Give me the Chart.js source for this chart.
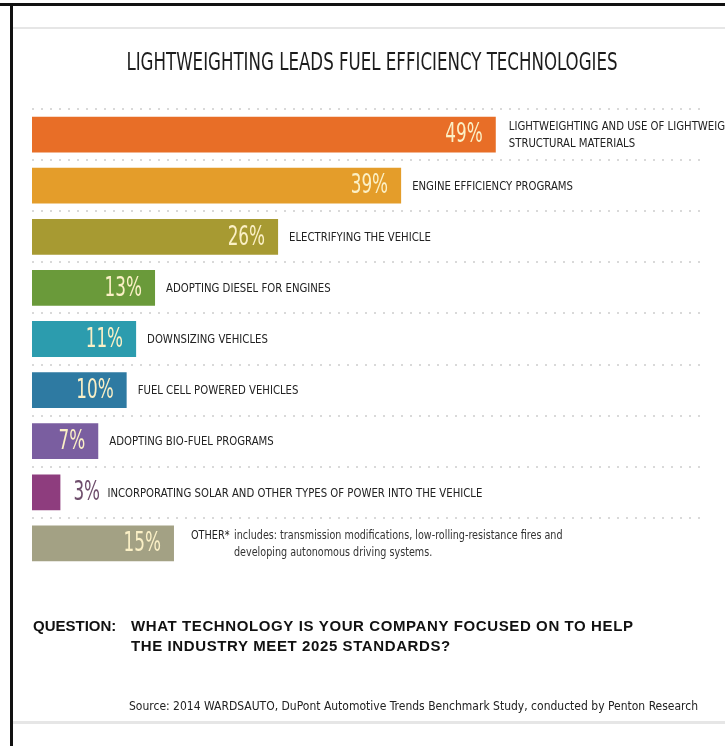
<!DOCTYPE html>
<html>
<head>
<meta charset="utf-8">
<script src="https://cdn.jsdelivr.net/npm/chart.js@4"></script>
<style>
  html, body { margin: 0; padding: 0; background: #fff; }
  #wrap { width: 725px; height: 746px; position: relative; }
</style>
</head>
<body>
<div id="wrap"><canvas id="fuelChart" width="725" height="746"></canvas></div>
<script>
// data
const categories = [
  'LIGHTWEIGHTING AND USE OF LIGHTWEIGHT STRUCTURAL MATERIALS',
  'ENGINE EFFICIENCY PROGRAMS',
  'ELECTRIFYING THE VEHICLE',
  'ADOPTING DIESEL FOR ENGINES',
  'DOWNSIZING VEHICLES',
  'FUEL CELL POWERED VEHICLES',
  'ADOPTING BIO-FUEL PROGRAMS',
  'INCORPORATING SOLAR AND OTHER TYPES OF POWER INTO THE VEHICLE',
  'OTHER*'
];
const labelLines = [
  ['LIGHTWEIGHTING AND USE OF LIGHTWEIGHT', 'STRUCTURAL MATERIALS'],
  ['ENGINE EFFICIENCY PROGRAMS'],
  ['ELECTRIFYING THE VEHICLE'],
  ['ADOPTING DIESEL FOR ENGINES'],
  ['DOWNSIZING VEHICLES'],
  ['FUEL CELL POWERED VEHICLES'],
  ['ADOPTING BIO-FUEL PROGRAMS'],
  ['INCORPORATING SOLAR AND OTHER TYPES OF POWER INTO THE VEHICLE'],
  ['OTHER*']
];
const values = [49, 39, 26, 13, 11, 10, 7, 3, 15];
const barColors = ['#E86E27', '#E49D2A', '#A79A32', '#6A9A3A', '#2C9CAE', '#2E7AA2', '#7A5EA0', '#8E3D7E', '#A3A184'];
const otherNote = ['includes: transmission modifications, low-rolling-resistance fires and', 'developing autonomous driving systems.'];

const chartTitle = 'LIGHTWEIGHTING LEADS FUEL EFFICIENCY TECHNOLOGIES';
const questionLines = ['WHAT TECHNOLOGY IS YOUR COMPANY FOCUSED ON TO HELP', 'THE INDUSTRY MEET 2025 STANDARDS?'];
const sourceText = 'Source: 2014 WARDSAUTO, DuPont Automotive Trends Benchmark Study, conducted by Penton Research';

const NARROW = '"Liberation Sans Narrow", "DejaVu Sans Condensed", sans-serif';
const BOLD = 'bold 15px "Liberation Sans", Arial, sans-serif';

// squeezed text, the original uses a very condensed face
function txt(ctx, s, x, y, font, color, align, sx, spacing) {
  ctx.save();
  ctx.font = font;
  ctx.fillStyle = color;
  ctx.textAlign = align || 'left';
  ctx.textBaseline = 'middle';
  if (spacing) ctx.letterSpacing = spacing;
  ctx.translate(x, y);
  ctx.scale(sx || 1, 1);
  ctx.fillText(s, 0, 0);
  ctx.restore();
}

const decorations = {
  id: 'decorations',
  beforeDraw(chart) {
    const ctx = chart.ctx;
    ctx.save();
    // frame
    ctx.fillStyle = '#111';
    ctx.fillRect(0, 3, 725, 3);
    ctx.fillRect(10, 3, 3, 743);
    ctx.fillStyle = '#e6e6e6';
    ctx.fillRect(13, 27, 712, 2);
    ctx.fillRect(13, 721, 712, 3);
    ctx.restore();
  },
  afterDatasetsDraw(chart) {
    const ctx = chart.ctx;
    const bars = chart.getDatasetMeta(0).data;

    txt(ctx, chartTitle, 372, 63, '25px ' + NARROW, '#1c1c1c', 'center', 0.74);

    bars.forEach((bar, i) => {
      const v = values[i] + '%';
      let labelX = bar.x + 11;
      if (values[i] < 5) {
        txt(ctx, v, bar.x + 13, bar.y + 1, '26px ' + NARROW, '#6f4e6c', 'left', 0.72);
        labelX = bar.x + 47;
      } else {
        txt(ctx, v, bar.x - 13, bar.y + 1, '26px ' + NARROW, '#FBF0C6', 'right', 0.72);
      }
      const lines = labelLines[i];
      if (i === values.length - 1) {
        labelX = bar.x + 17;
        txt(ctx, lines[0], labelX, bar.y - 8, '12px ' + NARROW, '#222', 'left', 0.9);
        txt(ctx, otherNote[0], labelX + 43, bar.y - 8, '12px ' + NARROW, '#333', 'left', 0.89);
        txt(ctx, otherNote[1], labelX + 43, bar.y + 9, '12px ' + NARROW, '#333', 'left', 0.89);
      } else if (lines.length === 2) {
        txt(ctx, lines[0], labelX + 2, bar.y - 8, '12.5px ' + NARROW, '#222', 'left', 0.9);
        txt(ctx, lines[1], labelX + 2, bar.y + 9, '12.5px ' + NARROW, '#222', 'left', 0.9);
      } else {
        txt(ctx, lines[0], labelX, bar.y + 1, '12.5px ' + NARROW, '#222', 'left', 0.9);
      }
    });

    txt(ctx, 'QUESTION:', 33, 627, BOLD, '#111', 'left', 1);
    txt(ctx, questionLines[0], 131, 627, BOLD, '#111', 'left', 1, '0.6px');
    txt(ctx, questionLines[1], 131, 647, BOLD, '#111', 'left', 1, '0.6px');

    txt(ctx, sourceText, 129, 707, '12.5px ' + NARROW, '#222', 'left', 0.96);
  }
};

new Chart(document.getElementById('fuelChart').getContext('2d'), {
  type: 'bar',
  data: {
    labels: categories,
    datasets: [{
      data: values,
      backgroundColor: barColors,
      borderWidth: 0,
      barPercentage: 0.7,
      categoryPercentage: 1
    }]
  },
  options: {
    indexAxis: 'y',
    responsive: false,
    animation: false,
    layout: { padding: { left: 32, right: 21, top: 109, bottom: 177 } },
    scales: {
      x: { display: false, min: 0, max: 71 },
      y: {
        display: true,
        ticks: { display: false },
        border: { display: false, dash: [2, 7] },
        grid: {
          offset: true,
          drawTicks: false,
          lineWidth: 2,
          color: c => (c.type === 'tick' ? '#d9d9d9' : 'rgba(0,0,0,0)')
        }
      }
    },
    plugins: {
      legend: { display: false },
      title: { display: false },
      tooltip: { enabled: false }
    }
  },
  plugins: [decorations]
});
</script>
</body>
</html>
